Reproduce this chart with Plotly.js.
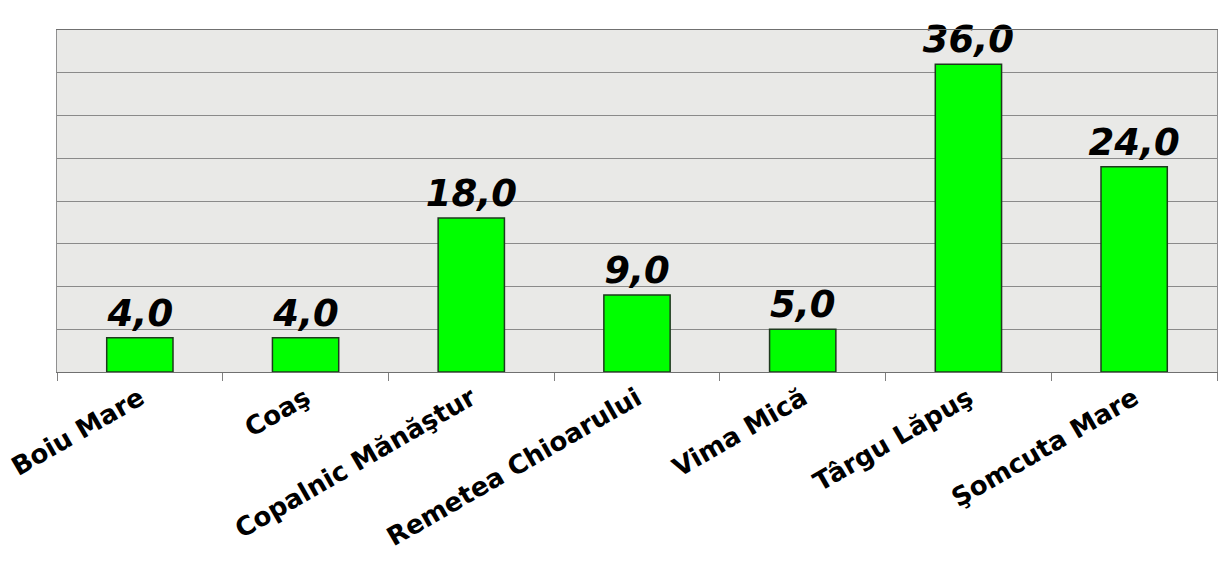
<!DOCTYPE html>
<html>
<head>
<meta charset="utf-8">
<script src="https://cdn.plot.ly/plotly-3.0.1.min.js"></script>
<style>
  html, body { margin: 0; padding: 0; background: #fff; }
  #grafic { width: 1221px; height: 562px; }
</style>
</head>
<body>
<div id="grafic"></div>
<script>
// --- Date ---
const localitati = [
  "Boiu Mare",
  "Coaş",
  "Copalnic Mănăştur",
  "Remetea Chioarului",
  "Vima Mică",
  "Târgu Lăpuş",
  "Şomcuta Mare"
];
const valori = [4, 4, 18, 9, 5, 36, 24];

// etichete cu virgula zecimala
const etichete = valori.map((v) => v.toFixed(1).replace(".", ","));

const traceBare = {
  x: localitati,
  y: valori,
  type: "bar",
  text: etichete,
  textposition: "outside",
  constraintext: "none",
  cliponaxis: false,
  textfont: {
    family: "DejaVu Sans, sans-serif",
    size: 37,
    color: "#000",
    weight: "bold",
    style: "italic",
  },
  marker: {
    color: "#00ff00",
    line: { color: "#1e3a1e", width: 1.5 },
  },
  hoverinfo: "x+y",
};

const layout = {
  paper_bgcolor: "#ffffff",
  plot_bgcolor: "#e9e9e7",
  showlegend: false,
  bargap: 0.6,
  font: { family: "DejaVu Sans, sans-serif", color: "#000" },
  xaxis: {
    type: "category",
    tickangle: -30,
    tickfont: { size: 26, weight: "bold", color: "#000" },
    ticks: "outside",
    tickson: "boundaries",
    ticklen: 8,
    tickcolor: "#808080",
    showline: true,
    linecolor: "#707070",
    linewidth: 1,
    mirror: true,
    showgrid: false,
  },
  yaxis: {
    range: [0, 40],
    dtick: 5,
    showticklabels: false,
    ticks: "",
    showline: true,
    linecolor: "#909090",
    mirror: true,
    gridcolor: "#8a8a8a",
    gridwidth: 1,
    zeroline: false,
  },
  margin: { t: 30, b: 190, l: 57, r: 4 },
};

Plotly.newPlot("grafic", [traceBare], layout, { displayModeBar: false });
</script>
</body>
</html>
